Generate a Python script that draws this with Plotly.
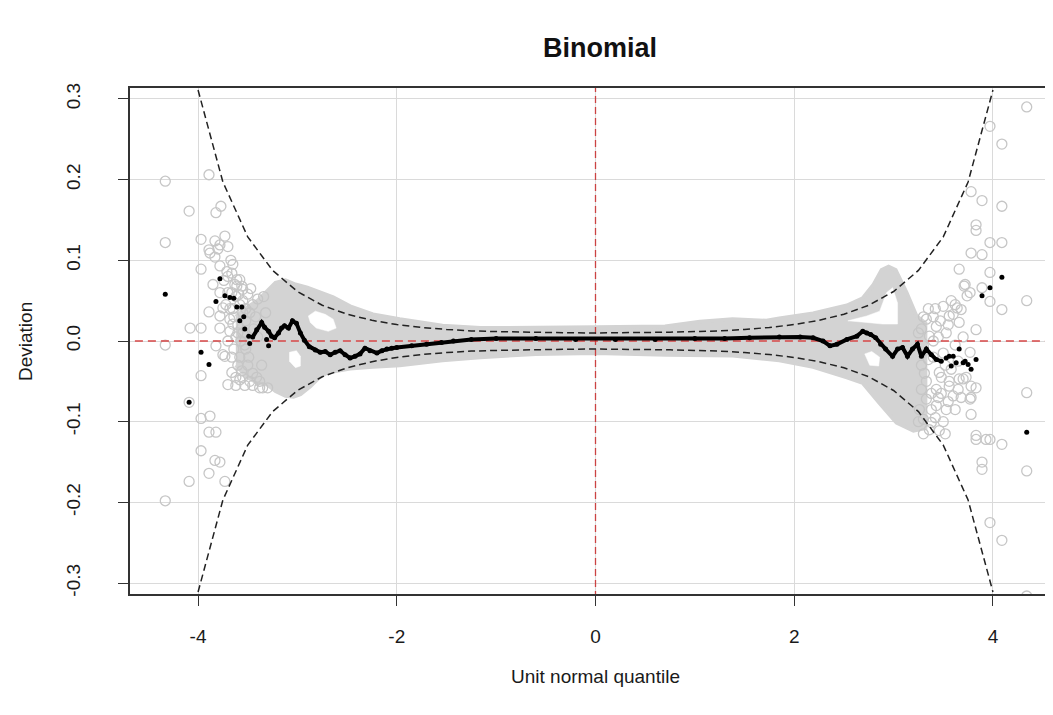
import plotly.graph_objects as go

# ---------------- data ----------------
# confidence band (dashed), z steps of 0.25
band_z = [-4.0, -3.75, -3.5, -3.25, -3.0, -2.75, -2.5, -2.25, -2.0, -1.75, -1.5, -1.25,
          -1.0, -0.75, -0.5, -0.25, 0.0, 0.25, 0.5, 0.75, 1.0, 1.25, 1.5, 1.75, 2.0,
          2.25, 2.5, 2.75, 3.0, 3.25, 3.5, 3.75, 4.0]
band_upper = [0.311, 0.197, 0.129, 0.0875, 0.0613, 0.0443, 0.0332, 0.0256, 0.0204, 0.0168,
              0.0143, 0.0125, 0.0117, 0.0109, 0.0104, 0.0101, 0.0100, 0.0101, 0.0104, 0.0109,
              0.0117, 0.0125, 0.0143, 0.0168, 0.0204, 0.0256, 0.0332, 0.0443, 0.0613, 0.0875,
              0.129, 0.197, 0.311]
band_lower = [-0.311, -0.197, -0.129, -0.0875, -0.0613, -0.0443, -0.0332, -0.0256, -0.0204,
              -0.0168, -0.0143, -0.0125, -0.0117, -0.0109, -0.0104, -0.0101, -0.0100, -0.0101,
              -0.0104, -0.0109, -0.0117, -0.0125, -0.0143, -0.0168, -0.0204, -0.0256, -0.0332,
              -0.0443, -0.0613, -0.0875, -0.129, -0.197, -0.311]

# dense region of the replicate (grey) worms: upper / lower envelope
env_up_x = [-3.62, -3.50, -3.40, -3.30, -3.22, -3.12, -3.02, -2.90, -2.64, -2.47, -2.24, -1.97,
            -1.54, -1.16, -0.6, 0.0, 0.7, 1.05, 1.38, 1.72, 1.85, 2.19, 2.53, 2.69, 2.80, 2.88,
            2.95, 3.02, 3.13, 3.23, 3.32]
env_up_y = [0.030, 0.042, 0.050, 0.062, 0.072, 0.075, 0.070, 0.066, 0.054, 0.043, 0.033, 0.027,
            0.019, 0.016, 0.016, 0.017, 0.018, 0.024, 0.027, 0.025, 0.028, 0.034, 0.044, 0.053,
            0.070, 0.088, 0.092, 0.088, 0.060, 0.031, 0.022]
env_lo_x = [-3.62, -3.50, -3.40, -3.30, -3.22, -3.12, -3.04, -2.97, -2.87, -2.78, -2.70, -2.47,
            -2.24, -1.97, -1.54, -1.16, -0.6, 0.0, 0.72, 1.38, 1.85, 2.19, 2.53, 2.69, 2.86,
            3.03, 3.20, 3.32]
env_lo_y = [-0.030, -0.045, -0.052, -0.054, -0.062, -0.068, -0.069, -0.066, -0.056, -0.045,
            -0.039, -0.034, -0.032, -0.030, -0.024, -0.020, -0.016, -0.015, -0.017, -0.018,
            -0.024, -0.032, -0.045, -0.052, -0.077, -0.101, -0.111, -0.108]

# white gaps inside the grey region
hole1_x = [-2.89, -2.82, -2.72, -2.64, -2.61, -2.69, -2.81, -2.87]
hole1_y = [0.031, 0.037, 0.033, 0.027, 0.016, 0.012, 0.016, 0.023]
hole2_x = [-3.08, -3.01, -2.97, -2.97, -3.02, -3.08]
hole2_y = [-0.014, -0.012, -0.019, -0.031, -0.033, -0.025]
hole3_x = [2.54, 2.73, 2.86, 2.93, 2.99, 3.04, 3.04, 2.89, 2.73]
hole3_y = [0.025, 0.031, 0.037, 0.060, 0.066, 0.047, 0.021, 0.021, 0.023]
hole4_x = [2.71, 2.78, 2.86, 2.85, 2.76]
hole4_y = [-0.016, -0.013, -0.020, -0.031, -0.030]

# individual grey open circles in the tails
circ_x = [-4.33, -4.33, -4.33, -4.33, -4.09, -4.09, -4.09, -4.08, -3.97, -3.97, -3.97, -3.97,
          -3.97, -3.97, -3.89, -3.89, -3.89, -3.89, -3.89, -3.88, -3.88, -3.85, -3.83, -3.83,
          -3.82, -3.82, -3.82, -3.83, -3.80, -3.78, -3.78, -3.78, -3.78, -3.78, -3.78, -3.77,
          -3.75, -3.75, -3.73, -3.73, -3.73, -3.71, -3.70, -3.70, -3.70, -3.68, -3.66, -3.66,
          -3.65, -3.65, -3.61, -3.61, -3.58, -3.56, -3.55, -3.56, -3.62, -3.58, -3.55, -3.60,
          -3.55, -3.62, -3.50, -3.52, -3.58, -3.50, -3.55, -3.48, -3.60, -3.65, -3.52, -3.47,
          -3.45, -3.38, -3.40, -3.35, -3.30, -3.64, -3.68, -3.62, -3.38,
          -3.70, -3.66, -3.63, -3.59, -3.55, -3.52, -3.48, -3.45, -3.42, -3.72, -3.68, -3.64,
          -3.60, -3.57, -3.53, -3.49, -3.45, -3.41, -3.66, -3.62, -3.58, -3.53, -3.44, -3.40,
          -3.36, -3.32, -3.34, -3.70, -3.74, -3.67,
          4.34, 3.97, 4.09, 3.78, 3.89, 4.09, 3.83, 3.83, 3.97, 4.09, 3.78, 3.89, 3.66, 3.97,
          4.34, 3.71, 3.74, 3.89, 3.97, 4.09, 3.64, 3.50, 3.56, 3.83, 3.66, 3.77, 3.83, 3.78,
          3.78, 3.66, 3.56, 4.34, 3.83, 3.83, 3.97, 4.09, 3.89, 3.89, 4.34, 3.97, 4.09, 4.34,
          3.60, 3.68, 3.77, 3.72, 3.33, 3.43, 3.53, 3.36, 3.30, 3.35, 3.46, 3.56, 3.43, 3.33,
          3.43, 3.53, 3.30, 3.38, 3.46, 3.70, 3.78, 3.77, 3.60, 3.93, 3.28, 3.40, 3.47, 3.31,
          3.40, 3.50, 3.28, 3.38, 3.48, 3.26, 3.30, 3.40, 3.62, 3.58, 3.65,
          3.25, 3.30, 3.35, 3.42, 3.45, 3.48, 3.52, 3.55, 3.58, 3.62, 3.28, 3.33, 3.36, 3.42,
          3.50, 3.55, 3.62, 3.68, 3.25, 3.45, 3.38, 3.52, 3.65, 3.70, 3.73]
circ_y = [0.198, 0.122, -0.005, -0.198, 0.161, -0.076, -0.174, 0.016, 0.126, 0.089, 0.016,
          -0.043, -0.096, -0.136, 0.206, 0.113, 0.036, -0.113, -0.164, 0.109, -0.093, 0.070,
          0.124, 0.104, 0.159, -0.006, -0.113, -0.148, 0.114, 0.093, 0.031, 0.016, 0.060,
          0.119, -0.150, 0.167, 0.041, -0.017, 0.130, -0.019, -0.174, 0.086, 0.117, 0.000,
          -0.054, 0.027, 0.084, -0.039, 0.095, 0.021, 0.076, 0.068, 0.076, 0.068, 0.064,
          -0.037, 0.055, 0.045, 0.035, 0.020, 0.010, 0.005, 0.058, -0.010, -0.020, -0.030,
          -0.045, -0.050, -0.030, 0.040, 0.025, 0.065, -0.055, -0.058, 0.052, -0.058, -0.058,
          -0.010, 0.012, -0.045, -0.050,
          0.080, 0.060, 0.070, 0.058, 0.050, 0.040, 0.035, 0.045, 0.030, 0.045, 0.040, 0.030,
          0.010, 0.000, -0.005, -0.020, -0.040, -0.045, -0.020, -0.055, -0.048, -0.055, 0.015,
          0.005, -0.030, 0.035, 0.055, 0.060, 0.075, 0.100,
          0.290, 0.266, 0.244, 0.185, 0.174, 0.167, 0.144, 0.137, 0.122, 0.122, 0.109, 0.107,
          0.089, 0.085, 0.050, 0.068, 0.056, 0.066, 0.049, 0.039, 0.041, 0.043, 0.031, 0.014,
          0.023, -0.014, -0.058, -0.070, -0.091, -0.047, -0.056, -0.064, -0.117, -0.122,
          -0.122, -0.128, -0.150, -0.159, -0.161, -0.225, -0.247, -0.316,
          0.033, 0.039, 0.060, 0.070, 0.027, 0.018, 0.010, 0.006, -0.006, -0.023, -0.039,
          -0.050, -0.060, -0.072, -0.080, -0.085, -0.097, -0.101, -0.111, -0.047, -0.056,
          -0.072, -0.068, -0.122, 0.015, 0.030, 0.025, -0.040, -0.020, -0.015, -0.060, -0.085,
          -0.065, -0.085, -0.115, 0.000, -0.005, -0.035, -0.060,
          0.010, 0.030, 0.040, 0.040, 0.005, -0.045, -0.030, 0.020, 0.050, 0.045, -0.030,
          -0.050, -0.110, -0.095, -0.100, -0.075, -0.085, -0.070, -0.100, -0.070, -0.065,
          -0.115, -0.025, 0.005, -0.045]

# observed worm: dense central part
worm_x = [-3.45, -3.41, -3.36, -3.33, -3.29, -3.26, -3.23, -3.19, -3.16, -3.13, -3.09, -3.05,
          -3.01, -2.97, -2.93, -2.88, -2.82, -2.77, -2.72, -2.67, -2.62, -2.57, -2.52, -2.47,
          -2.42, -2.37, -2.32, -2.27, -2.20, -2.15, -2.10, -2.05, -2.00, -1.85, -1.70, -1.55,
          -1.43, -1.25, -1.00, -0.60, -0.20, 0.20, 0.60, 1.00, 1.30, 1.55, 1.85, 2.06, 2.19,
          2.29, 2.36, 2.43, 2.53, 2.63, 2.69, 2.73, 2.77, 2.82, 2.87, 2.92, 2.99, 3.04, 3.09,
          3.14, 3.19, 3.24, 3.28, 3.33, 3.38, 3.43, 3.48]
worm_y = [0.005, 0.014, 0.023, 0.017, 0.012, 0.006, 0.004, 0.010, 0.016, 0.019, 0.016, 0.025,
          0.022, 0.010, 0.001, -0.007, -0.011, -0.014, -0.013, -0.017, -0.014, -0.012, -0.017,
          -0.021, -0.019, -0.016, -0.009, -0.012, -0.015, -0.012, -0.010, -0.009, -0.008,
          -0.006, -0.004, -0.002, 0.000, 0.002, 0.003, 0.003, 0.002, 0.002, 0.002, 0.003,
          0.003, 0.004, 0.005, 0.005, 0.004, 0.000, -0.006, -0.004, 0.002, 0.006, 0.012,
          0.010, 0.008, 0.004, -0.004, -0.010, -0.019, -0.010, -0.008, -0.019, -0.010, -0.004,
          -0.019, -0.010, -0.017, -0.023, -0.025]

# observed worm: separate dots in the tails
dot_x = [-4.33, -4.09, -3.97, -3.89, -3.82, -3.78, -3.73, -3.68, -3.64, -3.61, -3.56, -3.58,
         -3.54, -3.53, -3.49, -3.48, -3.31, -3.29,
         3.53, 3.56, 3.60, 3.58, 3.63, 3.66, 3.70, 3.72, 3.75, 3.78, 3.83, 3.89, 3.97, 4.09,
         4.34]
dot_y = [0.058, -0.076, -0.014, -0.029, 0.049, 0.077, 0.056, 0.054, 0.053, 0.042, 0.042,
         0.025, 0.030, 0.015, 0.006, -0.003, 0.002, -0.006,
         -0.021, -0.019, -0.019, -0.031, -0.027, -0.010, -0.027, -0.025, -0.029, -0.035,
         -0.023, 0.056, 0.066, 0.079, -0.113]

ref_level = 0.0
x_ticks = [-4, -2, 0, 2, 4]
x_ticktext = ["-4", "-2", "0", "2", "4"]
y_ticks = [-0.3, -0.2, -0.1, 0.0, 0.1, 0.2, 0.3]
y_ticktext = ["-0.3", "-0.2", "-0.1", "0.0", "0.1", "0.2", "0.3"]

# ---------------- figure ----------------
GREY_FILL = "#D3D3D3"
GREY_CIRC = "#C6C6C6"
FONT = "Liberation Sans, Arial, sans-serif"
TXT = "#1a1a1a"

fig = go.Figure()

# grey dense region
fig.add_trace(go.Scatter(
    x=env_up_x + env_lo_x[::-1], y=env_up_y + env_lo_y[::-1],
    mode="lines", fill="toself", fillcolor=GREY_FILL,
    line=dict(color=GREY_FILL, width=4), hoverinfo="skip"))
for hx, hy in [(hole1_x, hole1_y), (hole2_x, hole2_y), (hole3_x, hole3_y), (hole4_x, hole4_y)]:
    fig.add_trace(go.Scatter(
        x=hx + hx[:1], y=hy + hy[:1], mode="lines", fill="toself",
        fillcolor="white", line=dict(color="white", width=0.5), hoverinfo="skip"))

# grey open circles
fig.add_trace(go.Scatter(
    x=circ_x, y=circ_y, mode="markers",
    marker=dict(symbol="circle-open", size=10, color=GREY_CIRC, line=dict(width=1.3, color=GREY_CIRC)),
    hoverinfo="skip"))

# red reference lines
fig.add_trace(go.Scatter(
    x=[-10, 10], y=[ref_level, ref_level], mode="lines",
    line=dict(color="rgba(215,70,70,0.75)", width=2.2, dash="8px,5px"), hoverinfo="skip"))
fig.add_trace(go.Scatter(
    x=[ref_level, ref_level], y=[-1, 1], mode="lines",
    line=dict(color="rgba(200,40,40,0.85)", width=1.3, dash="7px,4px"), hoverinfo="skip"))

# confidence band
for by in (band_upper, band_lower):
    fig.add_trace(go.Scatter(
        x=band_z, y=by, mode="lines",
        line=dict(color="#222222", width=1.5, dash="7px,4px"), hoverinfo="skip"))

# observed worm
fig.add_trace(go.Scatter(
    x=worm_x, y=worm_y, mode="lines+markers",
    line=dict(color="black", width=4),
    marker=dict(size=5, color="black"), hoverinfo="skip"))
fig.add_trace(go.Scatter(
    x=dot_x, y=dot_y, mode="markers",
    marker=dict(size=5, color="black"), hoverinfo="skip"))

# the page body has an 8px margin: plot area spans 130..1061 px, 88..594 px on screen
fig.update_layout(
    width=1053, height=715,
    margin=dict(l=122, r=0, t=80, b=129),
    paper_bgcolor="white", plot_bgcolor="white",
    showlegend=False,
    font=dict(family=FONT, size=19, color=TXT),
    xaxis=dict(range=[-4.685, 4.685], tickvals=x_ticks, ticktext=x_ticktext,
               showgrid=True, gridcolor="#DADADA", gridwidth=1.2, zeroline=False,
               showline=True, linecolor="#333333", linewidth=1.5, mirror=True,
               ticks="outside", ticklen=10, tickcolor="#333333", tickwidth=1.2,
               ticklabelstandoff=14,
               tickfont=dict(family=FONT, size=19, color=TXT)),
    yaxis=dict(range=[-0.3135, 0.3135], tickvals=y_ticks, ticktext=y_ticktext,
               showgrid=True, gridcolor="#DADADA", gridwidth=1.2, zeroline=False,
               showline=True, linecolor="#333333", linewidth=1.5, mirror=False,
               ticks="outside", ticklen=10, tickcolor="#333333", tickwidth=1.2,
               tickangle=-90, ticklabelstandoff=31,
               tickfont=dict(family=FONT, size=19, color=TXT)),
    annotations=[
        dict(text="<b>Binomial</b>", x=0.505, y=1.079, xref="paper", yref="paper",
             showarrow=False, xanchor="center", yanchor="middle",
             font=dict(family=FONT, size=27, color="#111111")),
        dict(text="Unit normal quantile", x=0.5005, y=-0.164, xref="paper", yref="paper",
             showarrow=False, xanchor="center", yanchor="middle",
             font=dict(family=FONT, size=19, color=TXT)),
        dict(text="Deviation", x=-0.1128, y=0.5, xref="paper", yref="paper",
             showarrow=False, xanchor="center", yanchor="middle", textangle=-90,
             font=dict(family=FONT, size=19, color=TXT)),
    ],
)

fig.write_html("out.html")
